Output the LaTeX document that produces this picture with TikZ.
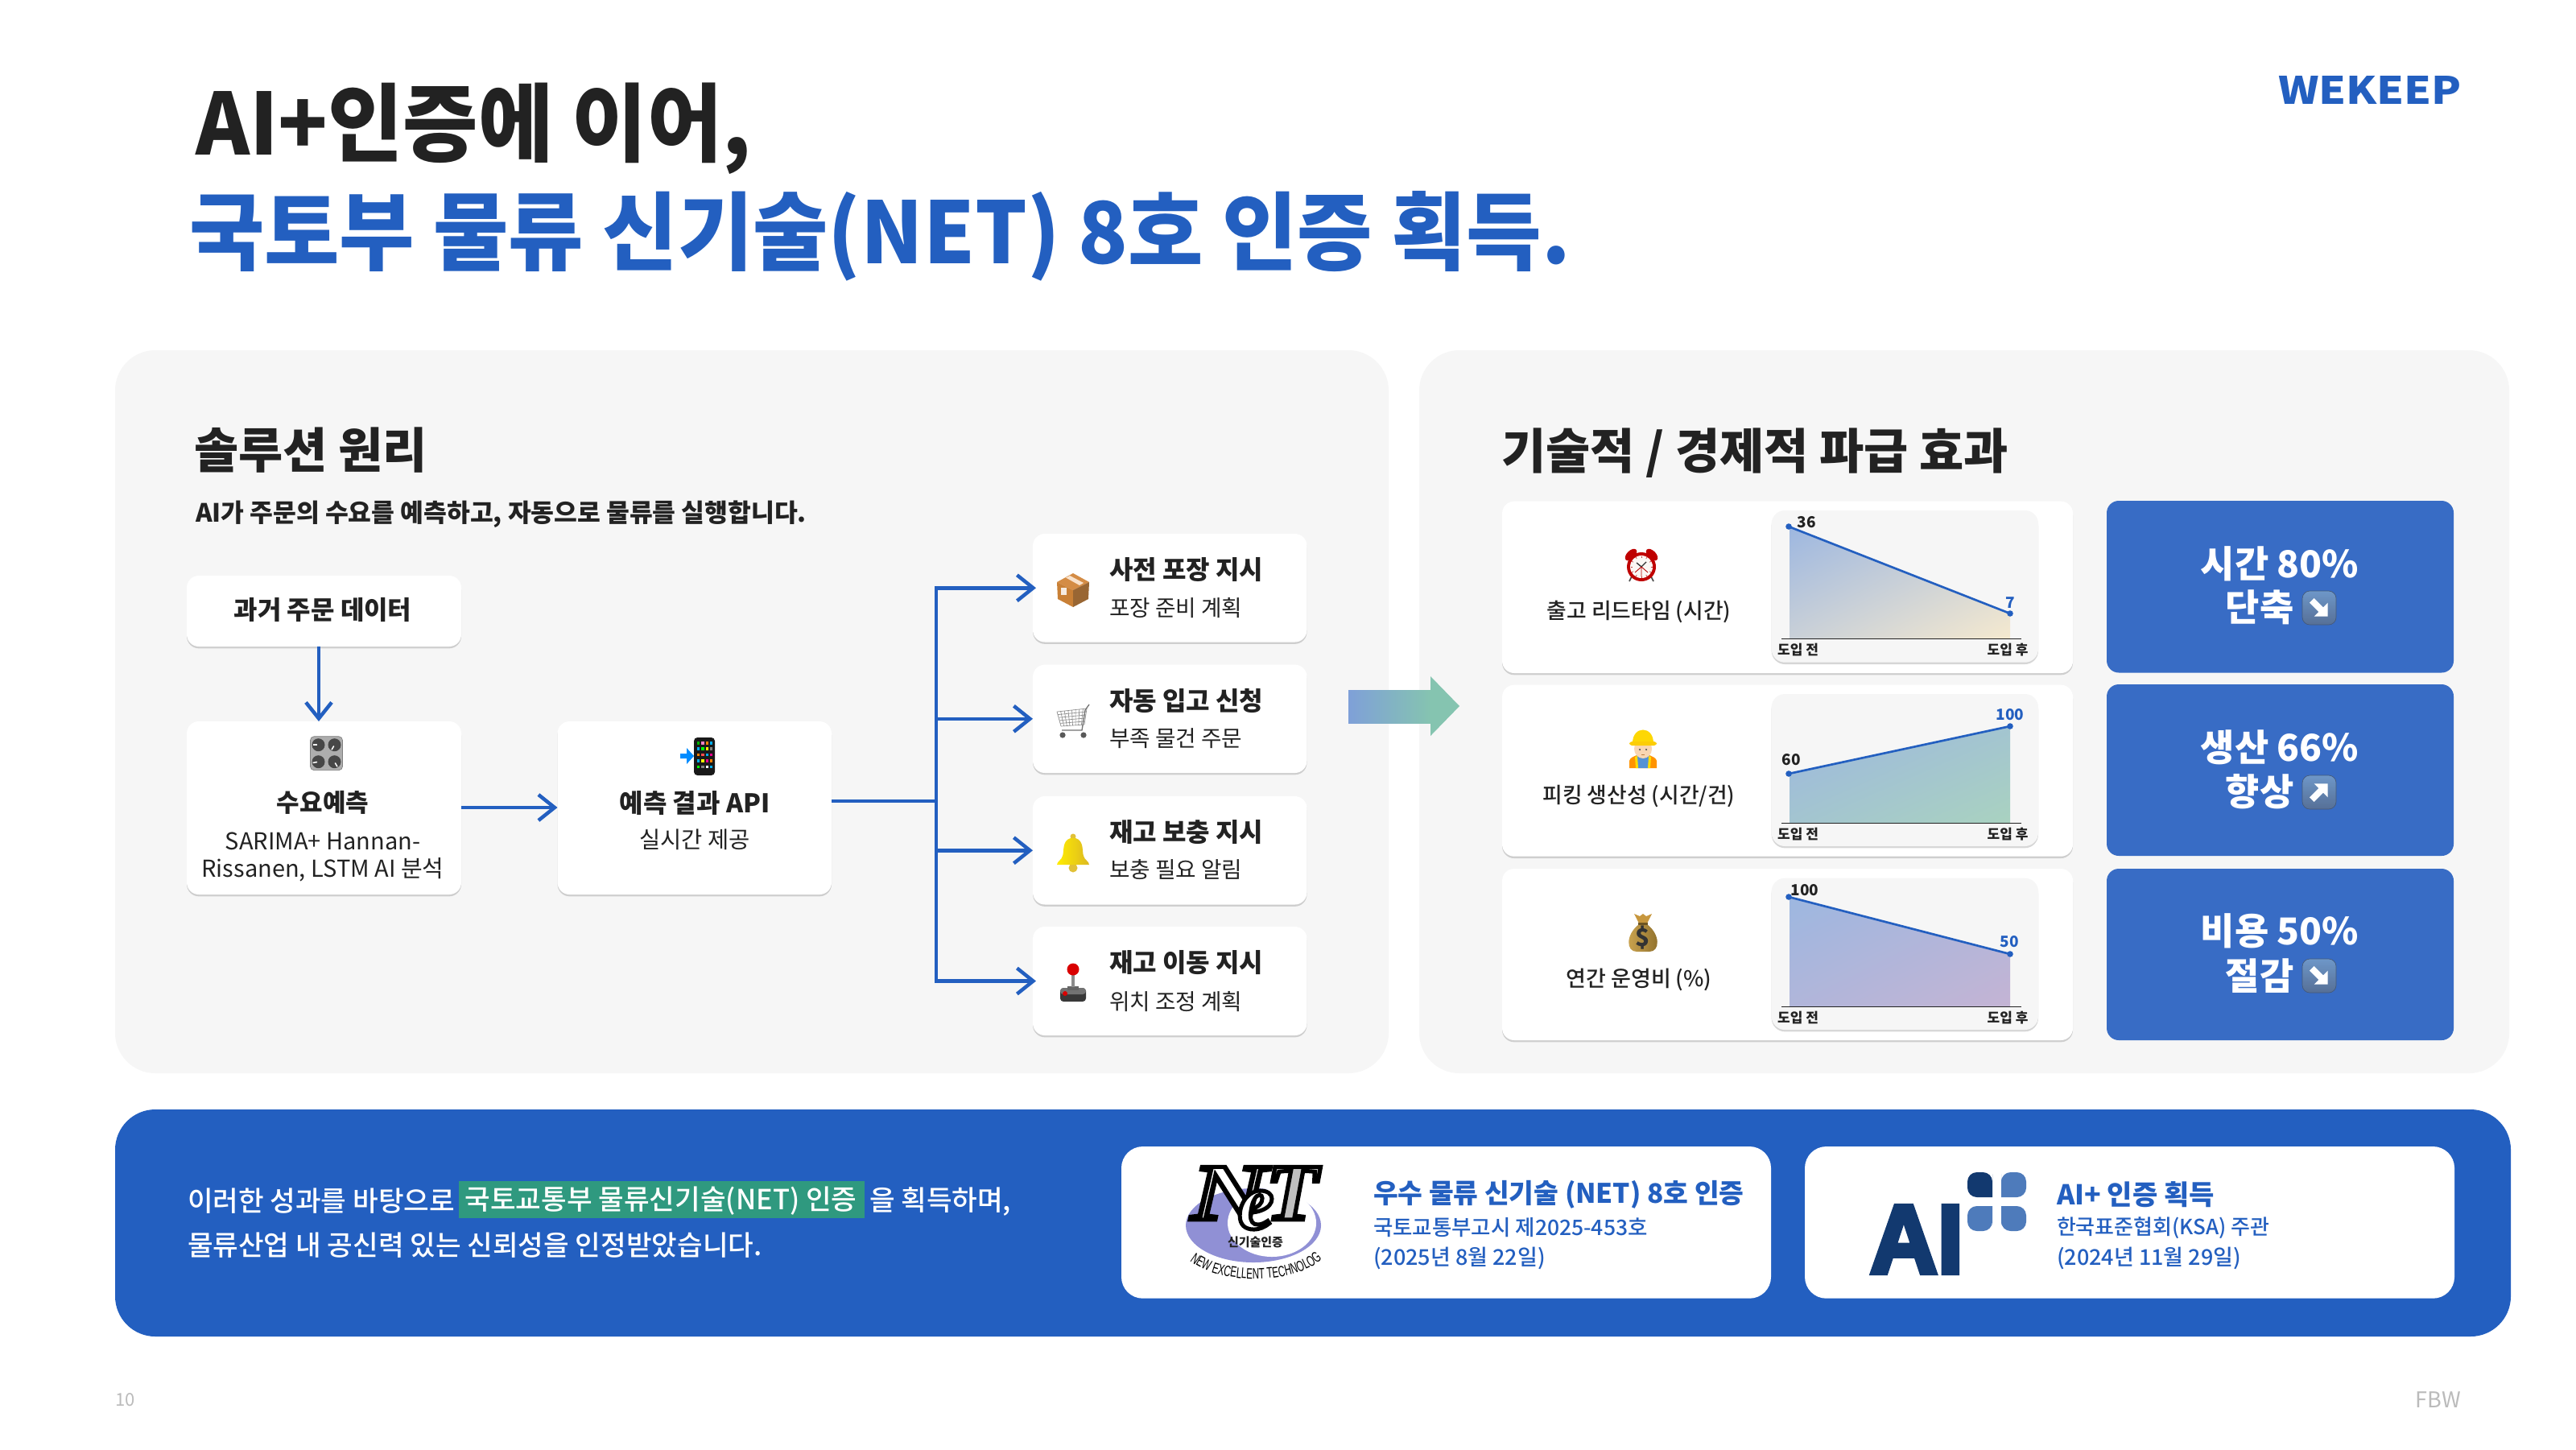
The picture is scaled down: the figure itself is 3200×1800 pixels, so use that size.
\documentclass[tikz,border=0pt]{standalone}
\usepackage{fontspec,graphicx}
\setmainfont{Noto Sans CJK KR}
\newfontfamily\med{Noto Sans CJK KR Medium}
\usetikzlibrary{arrows.meta,shadows,shadings,decorations.text,calc}
\definecolor{ink}{HTML}{222222}
\definecolor{brand}{HTML}{235FC0}
\definecolor{tile}{HTML}{386CC5}
\definecolor{panel}{HTML}{F6F6F6}
\definecolor{hl}{HTML}{2F997F}
\definecolor{gA}{HTML}{9DB7E0}
\definecolor{navy}{HTML}{12396F}
\definecolor{petal}{HTML}{4E7BBB}
\definecolor{arrowA}{HTML}{7FA0D8}
\definecolor{arrowB}{HTML}{85C4B0}
\definecolor{btnA}{HTML}{6E97C8}
\definecolor{btnB}{HTML}{566F96}
\definecolor{muted}{HTML}{BBBBBB}
\newcommand\fs[1]{\fontsize{\fpeval{0.3*#1}}{\fpeval{0.36*#1}}\selectfont}
\newcounter{tx}
\newcommand\tx[5][]{\stepcounter{tx}\node[txt,#1] (t\arabic{tx}) at (#2,#3) {\fs{#4}#5};}
\newcommand\bx[6]{\node[#1,minimum width={(#5-#3)*.3pt},minimum height={(#6-#4)*.3pt}] (#2) at ({(#3+#5)/2},{(#4+#6)/2}) {};}
\tikzset{
 txt/.style={inner sep=0,outer sep=0,text=ink},
 lft/.style={anchor=west},
 bigpanel/.style={fill=panel,rounded corners=15pt,inner sep=0,outer sep=0},
 card/.style={fill=white,rounded corners=4.5pt,inner sep=0,outer sep=0,drop shadow={shadow xshift=0pt,shadow yshift=-.7pt,fill=black,opacity=.16}},
 mini/.style={fill=panel,rounded corners=5pt,inner sep=0,outer sep=0,drop shadow={shadow xshift=0pt,shadow yshift=-.7pt,fill=black,opacity=.16}},
 tilebox/.style={fill=tile,rounded corners=4.5pt,inner sep=0,outer sep=0},
 certcard/.style={fill=white,rounded corners=8pt,inner sep=0,outer sep=0},
 flow/.style={draw=brand,line width=1.35pt,-{Straight Barb[length=6pt,width=9.6pt,line width=1.35pt]}},
 feed/.style={draw=brand,line width=1.35pt},
 trend/.style={draw=brand,line width=.8pt},
 dot/.style={fill=brand},
 axisline/.style={draw=ink,line width=.3pt},
}
\newcommand\iconclock[2]{\begin{scope}[shift={(#1,#2)}]
 \draw[black!70,line width=.5pt](-12,14)--(-15,20) (12,14)--(15,20);
 \fill[red!75!black,rotate around={45:(-13,-13)}](-13,-13) ellipse[x radius=9,y radius=5];
 \fill[red!75!black,rotate around={-45:(13,-13)}](13,-13) ellipse[x radius=9,y radius=5];
 \fill[red!75!black](0,2) circle(18);
 \fill[white!94!brown](0,2) circle(14);
 \foreach \a in {0,30,...,330}{\draw[red!50!gray,line width=.2pt](0,2)++(\a:11.5)--++(\a:2);}
 \draw[black!80,line width=.4pt](0,2)--(-6,-3) (0,2)--(6,-4);
 \draw[red!70!black,line width=.25pt](0,2)--(0,14) (0,2)--(-8,9) (0,2)--(8,9);
\end{scope}}
\newcommand\iconworker[2]{\begin{scope}[shift={(#1,#2)}]
 \fill[orange!85!yellow](-17,24)--(-17,15)..controls(-16,11)and(-12,10)..(-8,8)--(8,8)..controls(12,10)and(16,11)..(17,15)--(17,24)--cycle;
 \fill[cyan!55!blue!70](-8,8)--(8,8)--(6,24)--(-6,24)--cycle;
 \fill[yellow!80!orange](-10,10)--(-7,9)--(-6,24)--(-9,24)--cycle (10,10)--(7,9)--(6,24)--(9,24)--cycle;
 \fill[orange!25!white!90!brown](0,0) ellipse[x radius=11,y radius=12];
 \fill[black!70](-4,1) circle(1.2) (4,1) circle(1.2);
 \draw[brown,line width=.25pt](-2,7)--(2,7);
 \fill[yellow!75!orange](-13,-7)..controls(-13,-29)and(13,-29)..(13,-7)--cycle;
 \fill[yellow!65!orange,rounded corners=1pt](-17,-9) rectangle (17,-4);
\end{scope}}
\newcommand\iconbag[2]{\begin{scope}[shift={(#1,#2)}]
 \definecolor{bagc}{HTML}{C99D3E}
 \fill[bagc!80!brown](-5,-12)--(-11,-24)--(-4,-21)--(0,-24)--(4,-21)--(11,-24)--(5,-12)--cycle;
 \shade[left color=bagc!90!white,right color=bagc!70!black](-5,-11)..controls(-22,2)and(-21,23)..(-8,23)--(8,23)..controls(21,23)and(22,2)..(5,-11)--cycle;
 \fill[bagc!55!black](-6,-13) rectangle (6,-10);
 \stepcounter{tx}\node[txt,text=black!80] (t\arabic{tx}) at (0,6) {\fs{30}\bfseries\$};
\end{scope}}
\newcommand\iconknobs[2]{\begin{scope}[shift={(#1,#2)}]
 \fill[black!32,rounded corners=1.4pt,draw=black!50,line width=.2pt](-20,-21) rectangle (20,21);
 \foreach \x/\y/\a in {-10/-10.5/180,10/-10.5/120,-10/10.5/170,10/10.5/60}{
  \fill[black!72](\x,\y) circle(8);
  \draw[white,line width=.45pt](\x,\y)++(\a:1.5)--++(\a:5.5);}
\end{scope}}
\newcommand\iconphone[2]{\begin{scope}[shift={(#1,#2)}]
 \fill[black!90,rounded corners=1.3pt](-4,-23) rectangle (22,24);
 \foreach \r/\cA/\cB/\cC/\cD in {0/green!70!black/magenta!50/orange/cyan,1/cyan/green/yellow/gray,2/orange/red!70/cyan/magenta,3/cyan/yellow/magenta/orange,4/green/gray/white/cyan}{
  \fill[\cA](-.5,-18+\r*7.4) rectangle ++(3.6,3.6);
  \fill[\cB](5,-18+\r*7.4) rectangle ++(3.6,3.6);
  \fill[\cC](10.5,-18+\r*7.4) rectangle ++(3.6,3.6);
  \fill[\cD](15.5,-18+\r*7.4) rectangle ++(3.6,3.6);}
 \fill[blue!45!cyan](-21,-3)--(-13,-3)--(-13,-10)--(-4,0)--(-13,10)--(-13,3)--(-21,3)--cycle;
\end{scope}}
\newcommand\iconbox[2]{\begin{scope}[shift={(#1,#2)}]
 \fill[brown!75!orange!90](-20,-10)--(0,-21)--(20,-10)--(0,0)--cycle;
 \fill[brown!85!orange](-20,-10)--(0,0)--(0,21)--(-19,11)--cycle;
 \fill[brown!80!black](20,-10)--(0,0)--(0,21)--(19,11)--cycle;
 \fill[black!12!orange!20!white](-9,-15.5)--(-4,-18)--(13,-9)--(8,-6)--cycle;
 \fill[white!85!brown](-15,-3) rectangle (-8,6);
\end{scope}}
\newcommand\iconcart[2]{\begin{scope}[shift={(#1,#2)}]
 \foreach \t in {0,.125,...,1}{\draw[black!45,line width=.2pt]($(-20,-12)!\t!(17,-16)$)--($(-15,6)!\t!(14,4)$);}
 \foreach \t in {0,.2,...,1}{\draw[black!45,line width=.2pt]($(-20,-12)!\t!(-15,6)$)--($(17,-16)!\t!(14,4)$);}
 \draw[black!55,line width=.4pt](20,-21)--(15,-14)--(11,11)--(-14,11);
 \fill[black!65](-13,17) circle(3.6) (13,17) circle(3.6);
\end{scope}}
\newcommand\iconbell[2]{\begin{scope}[shift={(#1,#2)}]
 \fill[yellow!50!brown](0,20) circle(5.5);
 \fill[yellow!50!brown](0,-19) circle(3.5);
 \shade[left color=yellow!85!orange,right color=yellow!45!brown](-3,-17)..controls(-14,-14)and(-11,0)..(-13,5)..controls(-14,10)and(-20,12)..(-20,16)--(20,16)..controls(20,12)and(14,10)..(13,5)..controls(11,0)and(14,-14)..(3,-17)--cycle;
\end{scope}}
\newcommand\iconstick[2]{\begin{scope}[shift={(#1,#2)}]
 \fill[black!78,rounded corners=1.2pt](-16,6) rectangle (16,23);
 \fill[black!55,rounded corners=1.2pt](-16,6) rectangle (16,14);
 \fill[black!60](-7,4) rectangle (7,9);
 \fill[black!45](-2,-14) rectangle (2,5);
 \fill[red!85!black](0,-17) circle(7.5);
 \fill[red!85!black](-10,13) circle(3);
\end{scope}}
\newcommand\iconbtn[3]{\begin{scope}[shift={(#1,#2)}]
 \shade[top color=btnA,bottom color=btnB,rounded corners=2.8pt,draw=btnB!80!black,line width=.2pt](-21,-21) rectangle (21,21);
 \fill[white,rotate=#3](-13,-4)--(3,-4)--(3,-12)--(15,0)--(3,12)--(3,4)--(-13,4)--cycle;
\end{scope}}
\newcommand\chart[7]{%
 \bx{mini}{m#1}{2200.6}{#2}{2532}{#3}
 \begin{scope}
  \clip (2223,#4)--(2223,#5)--(2497,#6)--(2497,#4)--cycle;
  \shade[upper left=gA,lower right=#7,upper right=gA!50!#7,lower left=gA!50!#7](2223,{min(#5,#6)}) rectangle (2497,#4);
 \end{scope}
 \draw[axisline](2213,#4)--(2511,#4);
 \draw[trend](2222,#5)--(2497,#6);
 \fill[dot](2222,#5) circle(3.8) (2497,#6) circle(3.8);
 \tx{2233.6}{#4+14}{17}{\bfseries 도입 전}
 \tx{2494}{#4+14}{17}{\bfseries 도입 후}
}
\font\netf="Liberation Serif/BI:embolden=5" at 30pt
\font\aif="Liberation Sans/B:embolden=5" at 30pt
\font\arcf="Liberation Sans:extend=0.62" at 5.6pt
\begin{document}
\begin{tikzpicture}[x=.3pt,y=-.3pt]
\fill[white](0,0) rectangle (3200,1800);
\useasboundingbox (0,0) rectangle (3200,1800);
% title
\tx[lft]{243}{160}{106}{\scalebox{.958}[1]{\bfseries AI+인증에 이어,}}
\tx[lft,text=brand]{235}{293}{106}{\scalebox{.958}[1]{\bfseries 국토부 물류 신기술(NET) 8호 인증 획득.}}
\stepcounter{tx}\node[txt,text=brand] (logo) at (2944,111.5) {\resizebox{68.4pt}{10.5pt}{\bfseries WEKEEP}};
% panels
\bx{bigpanel}{left}{143}{435}{1725}{1333}
\bx{bigpanel}{right}{1763}{435}{3117}{1333}
\tx[lft]{241}{559}{60}{\bfseries 솔루션 원리}
\tx[lft]{243}{639}{31.3}{\bfseries AI가 주문의 수요를 예측하고, 자동으로 물류를 실행합니다.}
\tx[lft]{1865}{563}{60}{\bfseries 기술적 / 경제적 파급 효과}
% flow
\bx{card}{hist}{232}{715}{573}{803}
\bx{card}{demand}{232}{896}{573}{1111}
\bx{card}{api}{692.5}{896}{1033}{1111}
\bx{card}{o1}{1283}{663}{1623.5}{797.5}
\bx{card}{o2}{1283}{825.6}{1623.5}{960}
\bx{card}{o3}{1283}{989}{1623.5}{1123.5}
\bx{card}{o4}{1283}{1151}{1623.5}{1286}
\coordinate (ax) at (396,800);
\coordinate (ay) at (600,1003);
\coordinate (bus) at (1163,995);
\draw[flow] (ax |- hist.south) -- (ax |- demand.north);
\draw[flow] (demand.east |- ay) -- (api.west |- ay);
\draw[feed] (api.east |- bus) -- (bus);
\draw[flow] (bus) |- ([xshift=1.2pt]o1.west);
\draw[flow] (bus) |- (o2.west);
\draw[flow] (bus) |- (o3.west);
\draw[flow] (bus) |- ([xshift=1.2pt]o4.west);
\tx{401}{758}{32}{\bfseries 과거 주문 데이터}
\iconknobs{405.5}{935.7}
\tx{401}{997}{31}{\bfseries 수요예측}
\tx{401}{1044.7}{29}{SARIMA+ Hannan-}
\tx{401}{1080}{29}{Rissanen, LSTM AI 분석}
\iconphone{866}{939}
\tx{863}{997}{32}{\bfseries 예측 결과 API}
\tx{863}{1042.7}{28.5}{실시간 제공}
\iconbox{1333}{733}
\iconcart{1333}{896}
\iconbell{1333}{1058}
\iconstick{1333}{1221}
\tx[lft]{1378}{708}{32}{\bfseries 사전 포장 지시}
\tx[lft]{1378}{755}{27.7}{포장 준비 계획}
\tx[lft]{1378}{870}{32}{\bfseries 자동 입고 신청}
\tx[lft]{1378}{917}{27.7}{부족 물건 주문}
\tx[lft]{1378}{1033.5}{32}{\bfseries 재고 보충 지시}
\tx[lft]{1378}{1080}{27.7}{보충 필요 알림}
\tx[lft]{1378}{1196}{32}{\bfseries 재고 이동 지시}
\tx[lft]{1378}{1244}{27.7}{위치 조정 계획}
% big arrow
\shade[left color=arrowA,right color=arrowB] (1675,857) rectangle (1778,898);
\fill[arrowB] (1777,840)--(1813,877)--(1777,914)--cycle;
% charts
\bx{card}{r1}{1866}{622.7}{2575}{836}
\bx{card}{r2}{1866}{850.7}{2575}{1063.7}
\bx{card}{r3}{1866}{1079}{2575}{1292}
\definecolor{gB}{HTML}{F5E9CF}\definecolor{gC}{HTML}{A9D2C0}\definecolor{gD}{HTML}{C4B4D4}
\chart{1}{634}{822.7}{793}{654}{762}{gB}
\chart{2}{862}{1051}{1022}{961}{902}{gC}
\chart{3}{1090.7}{1279}{1250}{1114}{1185}{gD}
\tx{2244}{649}{19}{\bfseries 36}
\tx[text=brand]{2497}{749}{19}{\bfseries 7}
\tx{2225}{943.7}{19}{\bfseries 60}
\tx[text=brand]{2497}{887.7}{19}{\bfseries 100}
\tx{2242}{1105.7}{19}{\bfseries 100}
\tx[text=brand]{2496}{1169.7}{19}{\bfseries 50}
\iconclock{2039}{702}
\iconworker{2041}{930}
\iconbag{2041}{1159}
\tx{2036}{760}{26.8}{\med 출고 리드타임 (시간)}
\tx{2036}{989}{26.8}{\med 피킹 생산성 (시간/건)}
\tx{2036}{1217}{27}{\med 연간 운영비 (\%)}
% tiles
\bx{tilebox}{k1}{2617}{622}{3048}{835.5}
\bx{tilebox}{k2}{2617}{850}{3048}{1063}
\bx{tilebox}{k3}{2617}{1079}{3048}{1292}
\tx[text=white]{2832}{700}{46}{\bfseries 시간 80\%}
\tx[text=white]{2807}{754}{46}{\bfseries 단축}
\iconbtn{2881}{755}{-45}
\tx[text=white]{2832}{928}{46}{\bfseries 생산 66\%}
\tx[text=white]{2807}{983}{46}{\bfseries 향상}
\iconbtn{2881}{984}{45}
\tx[text=white]{2832}{1156.6}{46}{\bfseries 비용 50\%}
\tx[text=white]{2807}{1212}{46}{\bfseries 절감}
\iconbtn{2881}{1212}{-45}
% banner
\bx{fill=brand,rounded corners=15pt,inner sep=0,outer sep=0}{banner}{143}{1378}{3119}{1660}
\tx[lft,text=white]{233}{1492}{34.4}{\med 이러한 성과를 바탕으로}
\bx{fill=hl,inner sep=0,outer sep=0}{mark}{570}{1467}{1074}{1513}
\tx[text=white]{821}{1492}{34.4}{\med 국토교통부 물류신기술(NET) 인증}
\tx[lft,text=white]{1080}{1492}{34.4}{\med 을 획득하며,}
\tx[lft,text=white]{233}{1547}{34.4}{\med 물류산업 내 공신력 있는 신뢰성을 인정받았습니다.}
\bx{certcard}{c1}{1393}{1424}{2200}{1612.7}
\bx{certcard}{c2}{2242}{1424}{3049}{1612.7}
% NeT mark
\fill[blue!45!gray!60!white] (1557,1522) ellipse[x radius=84,y radius=46];
\fill[white] (1580,1519) ellipse[x radius=55,y radius=42];
\tx[text=white]{1527}{1482}{100}{\scalebox{1.3}[1]{\netf\special{pdf:code 0 0 0 RG}N}}
\tx[text=black!25]{1605}{1482}{100}{\scalebox{1.05}[1]{\netf\special{pdf:code 0 0 0 RG}T}}
\tx[text=white]{1560}{1503}{100}{\netf\special{pdf:code 0 0 0 RG}e}
\tx{1559.5}{1543}{15}{\bfseries 신기술인증}
\path[decorate,decoration={text along path,text align=fit to path,text={|\arcf|NEW EXCELLENT TECHNOLOGY}}] (1478,1566)..controls(1515,1596)and(1603,1596)..(1640,1566);
\tx[lft,text=brand]{1706}{1483.7}{33.4}{\bfseries 우수 물류 신기술 (NET) 8호 인증}
\tx[lft,text=brand]{1706}{1525}{26.5}{\med 국토교통부고시 제2025-453호}
\tx[lft,text=brand]{1706}{1563}{27}{\med (2025년 8월 22일)}
% AI+ mark
\stepcounter{tx}\node[txt,text=navy] (aimark) at (2381,1539.5) {\resizebox{34.8pt}{24.9pt}{\aif AI}};
\fill[navy,rounded corners=3.5pt](2444,1487)--(2444,1456)--(2475,1456)--(2475,1470) {[sharp corners] --(2475,1487)} --cycle;
\fill[petal,rounded corners=3.5pt](2517,1487)--(2517,1456)--(2486,1456)--(2486,1470) {[sharp corners]--(2486,1487)} --cycle;
\fill[petal,rounded corners=3.5pt](2444,1498)--(2444,1529)--(2475,1529)--(2475,1510) {[sharp corners]--(2475,1498)} --cycle;
\fill[petal,rounded corners=3.5pt](2517,1498)--(2517,1529)--(2486,1529)--(2486,1510) {[sharp corners]--(2486,1498)} --cycle;
\tx[lft,text=brand]{2555}{1483.7}{34}{\bfseries AI+ 인증 획득}
\tx[lft,text=brand]{2555}{1525}{26}{\med 한국표준협회(KSA) 주관}
\tx[lft,text=brand]{2555}{1563}{27}{\med (2024년 11월 29일)}
% footer
\tx[lft,text=muted]{143}{1739}{22}{10}
\tx[anchor=east,text=muted]{3057}{1739}{27}{FBW}
\end{tikzpicture}
\end{document}
